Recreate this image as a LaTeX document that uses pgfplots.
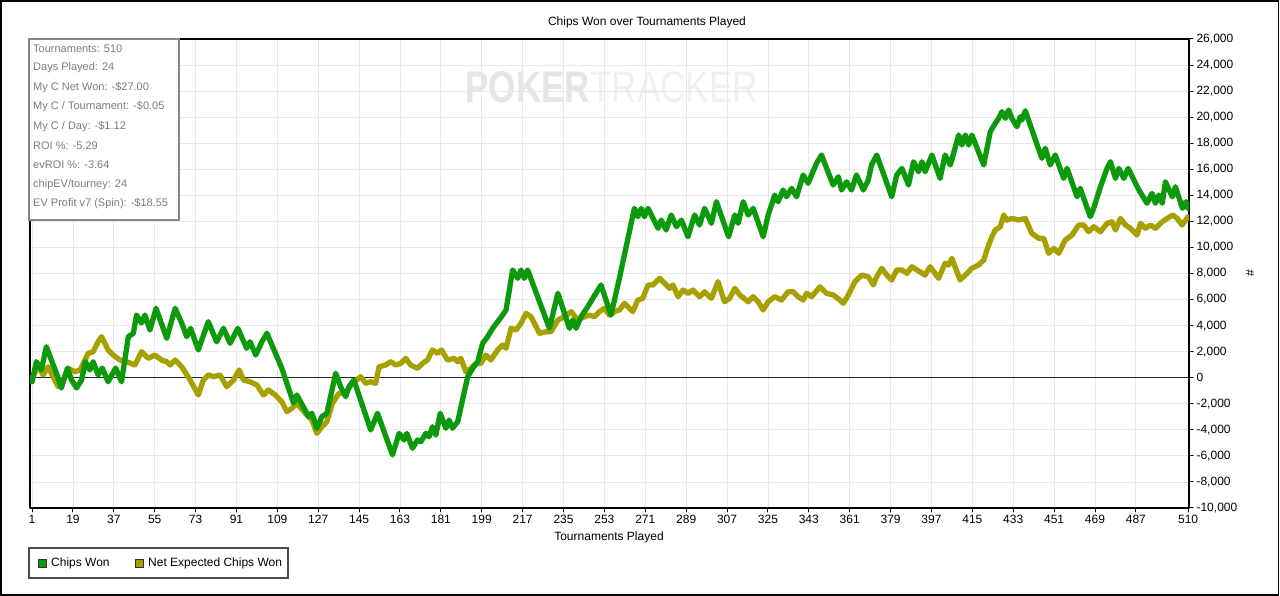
\documentclass[border=0pt]{standalone}
\usepackage{pgfplots}
\pgfplotsset{compat=1.18}
\usepackage{fontspec}
\setmainfont{Liberation Sans}
\definecolor{cwgreen}{RGB}{12,154,12}
\definecolor{evolive}{RGB}{166,160,0}
\definecolor{gridgray}{RGB}{232,232,232}
\definecolor{statgray}{RGB}{125,125,125}
\definecolor{boxgray}{RGB}{135,135,135}

\begin{document}
\begin{tikzpicture}[x=1pt,y=1pt]
\useasboundingbox (0,0) rectangle (1280,596);
\fill[white] (0,0) rectangle (1280,596);
% watermark
\node[anchor=south west, inner sep=0pt] at (465,493) {\resizebox{293pt}{31pt}{\textcolor{black!10}{\textbf{POKER}}\textcolor{black!6}{TRACKER}}};
\begin{axis}[
  at={(30pt,88pt)}, anchor=south west, scale only axis,
  width=1159pt, height=469pt,
  xmin=0.1, xmax=510.4, ymin=-10000, ymax=26000,
  xtick={1,19,37,55,73,91,109,127,145,163,181,199,217,235,253,271,289,307,325,343,361,379,397,415,433,451,469,487,510},
  ytick={-10000,-8000,-6000,-4000,-2000,0,2000,4000,6000,8000,10000,12000,14000,16000,18000,20000,22000,24000,26000},
  grid=major, major grid style={gridgray, line width=0.8pt},
  axis line style={black, line width=1.2pt},
  tick style={black, line width=1pt},
  tick align=outside, major tick length=4pt,
  xtick pos=left, ytick pos=right, yticklabel pos=right,
  ticklabel style={font=\fontsize{12}{14}\selectfont},
  /pgf/number format/assume math mode=true,
  /pgf/number format/1000 sep={,},
  xticklabel style={/pgf/number format/1000 sep={}},
  scaled y ticks=false,
  clip=true,
  line join=round, line cap=round,
]
\draw[black!85, line width=1.2pt] (axis cs:0.1,0) -- (axis cs:510.4,0);
\addplot[evolive, line width=5.3pt] coordinates {
(1,0) (3.7,840) (5.9,210) (8.1,840) (10.3,80) (12.5,-690) (14.7,-180) (16.9,720) (19.8,460) (22.1,590) (24.3,1360) (25.7,1870) (27.9,2000) (30.1,2760) (31.6,3150) (34.5,2130) (36.7,1740) (39.7,1360) (42.6,1230) (46.3,980) (49.2,2000) (52.2,1490) (55.1,1740) (58,1360) (60.3,1230) (61.8,980) (64,1360) (66.9,840) (70.6,-180) (74.2,-1330) (76.4,-180) (78.6,210) (80.9,80) (83.8,210) (86.7,-690) (89.7,-180) (92.2,590) (94.1,-180) (97,-310) (100,-560) (102.9,-1330) (105.1,-940) (108.1,-1330) (111,-1840) (113.2,-2610) (115.4,-2350) (117.6,-1970) (121.3,-2730) (124.2,-3250) (126.4,-4270) (128.6,-3760) (130.8,-3380) (133.2,-1970) (136.1,-1200) (139.1,-1200) (142,-430) (145.7,80) (147.9,-430) (150.1,-310) (152.3,-430) (153.8,840) (156.7,980) (158.9,1230) (161.1,980) (163.3,1100) (165.5,1490) (167.7,980) (170.7,720) (172.9,1100) (175.1,1360) (177.3,2130) (179.5,1870) (181.3,2130) (183.9,1360) (186.8,1490) (188.4,1230) (189.8,1490) (192,460) (194.2,720) (196.4,1100) (198.6,1100) (200.8,1740) (203,1360) (206,2130) (208.2,2510) (209.7,2260) (211.9,3790) (214.1,3660) (216.3,4180) (218.5,4940) (220.7,4680) (224.4,3410) (227.3,3530) (229.5,3530) (232.5,4430) (235.4,4680) (238.4,5070) (241.3,4430) (244.2,4680) (246.4,4810) (248.6,4680) (250.8,5070) (253,5330) (255.2,4810) (257.4,5070) (259.6,5200) (261.8,5710) (265.5,5070) (267.7,5960) (269.9,6090) (272.2,7120) (274.4,7120) (277.3,7630) (279.5,7250) (281.7,6860) (283.2,7120) (285.4,6220) (287.6,6730) (289.8,6480) (292,6730) (294.9,6220) (297.1,6600) (300.1,6090) (303,7370) (305.9,5830) (308.1,6090) (310.4,6860) (312.6,6350) (316.3,5830) (318.5,6220) (320.7,5830) (322.9,5200) (325.1,5830) (328,6220) (331,5960) (333.9,6600) (336.1,6600) (338.3,6220) (340.5,5960) (342,6480) (344.2,6220) (347.9,6980) (350.8,6480) (353.8,6350) (356.7,5960) (358.2,5710) (360.4,6350) (363.3,7370) (366.3,7880) (369.2,7750) (371.4,7120) (372.9,7750) (375.1,8400) (377.3,7880) (379.5,7500) (381.7,8270) (384,8270) (386.2,8010) (388.4,8520) (390.6,8270) (394.2,7880) (396.4,8520) (400.1,7630) (403,8780) (404.5,8650) (406,9160) (409.6,7500) (411.9,7880) (414.8,8400) (417.7,8650) (420,9030) (421.4,9800) (423.6,10820) (425.1,11340) (427.3,11590) (428.8,12490) (430.2,12100) (432.4,12230) (435.4,12100) (438.3,12230) (441.2,11080) (444.2,10700) (446.4,10700) (448.6,9550) (450.8,9930) (453,9550) (455.9,10570) (458.9,10950) (461.8,11720) (464,11720) (466.2,11210) (468.4,11590) (471.4,11210) (474.3,11850) (476.5,11970) (478,11340) (480.2,12230) (482.4,11720) (484.6,11470) (487.5,10950) (489,11850) (491.2,11470) (493.4,11720) (495.6,11470) (498.6,11970) (500.8,12230) (503.2,12490) (505.2,12230) (507.3,11720) (510,12360)
};
\addplot[cwgreen, line width=5.3pt] coordinates {
(1,-310) (2.9,1230) (5.1,590) (7.3,2380) (9.5,1360) (11.7,360) (13.9,-790) (16.6,740) (18.4,-180) (20.6,-790) (22.8,-180) (24.5,1230) (26.5,590) (27.9,1230) (30.1,210) (31.9,740) (34.5,-310) (37.8,740) (40.4,-310) (43.4,3150) (45.6,3410) (47,4810) (49.2,4200) (50.7,4810) (52.9,3660) (55.6,5330) (60.3,3020) (64,5330) (66.9,4200) (69.1,3150) (70.8,3790) (74.2,2130) (78.6,4300) (82.3,2760) (85.3,3790) (88.2,2640) (91.6,3790) (95.5,2260) (97,2760) (99.5,1740) (102.2,2760) (104.4,3410) (111,720) (116.1,-1940) (117.6,-1330) (122.8,-2990) (124.2,-2730) (126.4,-3880) (128.6,-2990) (130.8,-2730) (134.7,340) (136.9,-690) (139.1,-1460) (140.5,-690) (142.7,-180) (150.1,-4010) (153.1,-2730) (159.7,-5930) (162.6,-4270) (164.8,-4780) (166,-4270) (168.5,-5420) (170.7,-4780) (172.2,-4910) (174.4,-4270) (175.8,-4530) (177.3,-3760) (178.8,-4400) (180.7,-2730) (183.2,-3880) (184.6,-3250) (186.1,-3880) (188.4,-3380) (192.8,80) (195,720) (197.2,1230) (199.4,2640) (201.6,3150) (203.8,3790) (206,4300) (208.2,4810) (209.7,5200) (212.6,8270) (214.8,7630) (216.3,8270) (217.7,7630) (219.2,8270) (228.8,3790) (232.5,6480) (237.6,3790) (239.1,4430) (240.5,3790) (242.7,4680) (245.7,5450) (247.9,6090) (251.5,7120) (255.9,4810) (259.6,7630) (266.2,13000) (267.7,12360) (269.2,13000) (270.6,12360) (272.2,13000) (276.6,11470) (278,12100) (280.2,11340) (282.4,12490) (284.7,11590) (286.9,12100) (289.8,10820) (292.7,12490) (294.9,11720) (297.1,13000) (300.1,11850) (302.3,13510) (307.7,10820) (310.4,12490) (311.9,11850) (314.1,13510) (316.3,12490) (318.5,13000) (322.9,10820) (325.1,12490) (328,14020) (329.5,13510) (331.7,14410) (333.2,13890) (335.4,14540) (337.6,13890) (340.5,15560) (342.7,14920) (344.2,15560) (346.4,16460) (348.6,17090) (353.7,14790) (356,15430) (357.4,14410) (359.6,15040) (361.8,14410) (364,15560) (367,14410) (369.2,15170) (370.6,16330) (372.9,17090) (379.5,13890) (381.7,15560) (384,16070) (386.9,14790) (389.1,16580) (391.3,15810) (392.8,16580) (394.2,15810) (397.2,17090) (400.8,15300) (403,17090) (405.3,16330) (409,18630) (410.4,17860) (411.9,18630) (413.4,17860) (414.8,18630) (420,16330) (422.9,18880) (425.1,19530) (426.6,19910) (428,20420) (429.5,19910) (431,20550) (432.4,19910) (434.6,19260) (436.1,20030) (436.8,19780) (438.3,20490) (445.6,16840) (447.1,17610) (449.3,16330) (451.5,17090) (455.2,15300) (456.7,16070) (461.1,13890) (462.5,14540) (466.9,12360) (468.4,13000) (471.4,14660) (474.3,16070) (475.8,16580) (478,15300) (479.5,16070) (481.7,15300) (483.6,16070) (488.3,14410) (491.9,13390) (494.1,14150) (495.6,13390) (497.1,14020) (498.6,13390) (500,15040) (503,13890) (504.4,14660) (507.5,13000) (509,13510) (510,13000)
};
\end{axis}
% outer frame
\draw[black, line width=1.5pt] (1,1) rectangle (1278.5,595);
% title and labels
\node[font=\fontsize{12}{14}\selectfont] at (647,574) {Chips Won over Tournaments Played};
\node[font=\fontsize{12}{14}\selectfont] at (609,59) {Tournaments Played};
\node[font=\fontsize{12}{14}\selectfont, rotate=90] at (1250,323) {\#};
% stats box
\draw[boxgray, line width=1.2pt, fill=white] (29,376) rectangle (179,557);
\begin{scope}[every node/.style={anchor=west, inner sep=0pt, text=statgray, font=\fontsize{11}{13}\selectfont}]
\node at (33,547) {Tournaments: 510};
\node at (33,528) {Days Played: 24};
\node at (33,508) {My C Net Won: -\$27.00};
\node at (33,489) {My C / Tournament: -\$0.05};
\node at (33,469) {My C / Day: -\$1.12};
\node at (33,450) {ROI \%: -5.29};
\node at (33,431) {evROI \%: -3.64};
\node at (33,411) {chipEV/tourney: 24};
\node at (33,392) {EV Profit v7 (Spin): -\$18.55};
\end{scope}
% legend
\draw[black!70, line width=1.2pt, fill=white] (29,18) rectangle (288,48);
\draw[black!80, line width=0.8pt, fill=cwgreen] (38,29) rectangle (46,37);
\node[anchor=west, inner sep=0pt, font=\fontsize{12}{14}\selectfont] at (51,33) {Chips Won};
\draw[black!80, line width=0.8pt, fill=evolive] (135,29) rectangle (143,37);
\node[anchor=west, inner sep=0pt, font=\fontsize{12}{14}\selectfont] at (148,33) {Net Expected Chips Won};
\end{tikzpicture}
\end{document}
